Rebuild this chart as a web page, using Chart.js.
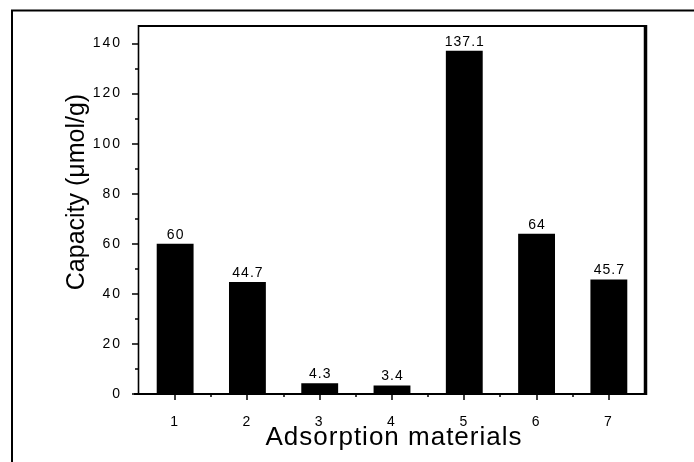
<!DOCTYPE html>
<html>
<head>
<meta charset="utf-8">
<script src="https://cdn.jsdelivr.net/npm/chart.js@4.4.1/dist/chart.umd.min.js"></script>
<style>
  html, body { margin: 0; padding: 0; background: #fff; }
</style>
</head>
<body>
<canvas id="chart" width="694" height="462"></canvas>
<script>
// data
const categories = ['1', '2', '3', '4', '5', '6', '7'];
const capacityValues = [60, 44.7, 4.3, 3.4, 137.1, 64, 45.7];
const valueLabels = ['60', '44.7', '4.3', '3.4', '137.1', '64', '45.7'];
const yMajorTicks = [0, 20, 40, 60, 80, 100, 120, 140];
const yMinorTicks = [10, 30, 50, 70, 90, 110, 130];
const yMax = 147;
const yTitle = 'Capacity (μmol/g)';
const xTitle = 'Adsorption materials';

const FONT = '"Liberation Sans", Arial, Helvetica, sans-serif';

// frame, ticks, titles and value labels
const framePlugin = {
    id: 'frame',
    beforeDraw(chart) {
        chart.ctx.letterSpacing = '2px';
    },
    afterDatasetsDraw(chart) {
        const ctx = chart.ctx;
        const meta = chart.getDatasetMeta(0);
        ctx.save();
        ctx.letterSpacing = '1px';
        ctx.fillStyle = '#000';
        ctx.font = '14px ' + FONT;
        ctx.textAlign = 'center';
        ctx.textBaseline = 'bottom';
        meta.data.forEach((bar, i) => {
            ctx.fillText(valueLabels[i], bar.x + 0.5, bar.y - 2);
        });
        ctx.restore();
    },
    afterDraw(chart) {
        const ctx = chart.ctx;
        const area = chart.chartArea;
        const xs = chart.scales.x;
        const ys = chart.scales.y;
        ctx.save();
        ctx.letterSpacing = '0px';
        ctx.strokeStyle = '#000';

        // outer border of the figure
        ctx.lineWidth = 2;
        ctx.beginPath();
        ctx.moveTo(12, 462);
        ctx.lineTo(12, 10.5);
        ctx.lineTo(694, 10.5);
        ctx.stroke();

        // plot box
        ctx.lineWidth = 2;
        ctx.beginPath();
        ctx.moveTo(area.left, area.top);
        ctx.lineTo(area.right, area.top);
        ctx.moveTo(area.left - 5, area.bottom);
        ctx.lineTo(area.right, area.bottom);
        ctx.stroke();
        ctx.lineWidth = 1.6;
        ctx.beginPath();
        ctx.moveTo(area.left - 0.5, area.top - 1);
        ctx.lineTo(area.left - 0.5, area.bottom + 1);
        ctx.stroke();
        ctx.lineWidth = 3.5;
        ctx.beginPath();
        ctx.moveTo(area.right + 0.5, area.top - 1);
        ctx.lineTo(area.right + 0.5, area.bottom + 1);
        ctx.stroke();

        // y ticks
        ctx.lineWidth = 1.5;
        ctx.beginPath();
        yMajorTicks.forEach(v => {
            const py = Math.round(ys.getPixelForValue(v));
            ctx.moveTo(area.left - 7, py);
            ctx.lineTo(area.left, py);
        });
        yMinorTicks.forEach(v => {
            const py = Math.round(ys.getPixelForValue(v));
            ctx.moveTo(area.left - 4, py);
            ctx.lineTo(area.left, py);
        });
        // x ticks
        categories.forEach((c, i) => {
            const px = Math.round(xs.getPixelForValue(i));
            ctx.moveTo(px, area.bottom);
            ctx.lineTo(px, area.bottom + 6);
            if (i < categories.length - 1) {
                const mx = Math.round(xs.getPixelForValue(i + 0.5));
                ctx.moveTo(mx, area.bottom);
                ctx.lineTo(mx, area.bottom + 3);
            }
        });
        ctx.stroke();

        // axis titles
        ctx.fillStyle = '#000';
        ctx.font = '26px ' + FONT;
        ctx.textAlign = 'center';
        ctx.textBaseline = 'alphabetic';
        ctx.letterSpacing = '1px';
        ctx.fillText(xTitle, 394, 445);

        ctx.letterSpacing = '0px';
        ctx.font = '25px ' + FONT;
        ctx.translate(84, 192);
        ctx.rotate(-Math.PI / 2);
        ctx.fillText(yTitle, 0, 0);
        ctx.restore();
    }
};

new Chart(document.getElementById('chart'), {
    type: 'bar',
    data: {
        labels: categories,
        datasets: [{
            data: capacityValues,
            backgroundColor: '#000',
            borderWidth: 0,
            barPercentage: 0.51,
            categoryPercentage: 1
        }]
    },
    options: {
        responsive: false,
        animation: false,
        layout: { padding: { top: 26, right: 49, left: 0, bottom: 0 } },
        plugins: {
            legend: { display: false },
            tooltip: { enabled: false }
        },
        scales: {
            x: {
                grid: { display: false },
                border: { display: false },
                ticks: {
                    color: '#000',
                    font: { family: FONT, size: 14 },
                    padding: 12,
                    maxRotation: 0
                },
                afterFit(scale) { scale.height = 68; }
            },
            y: {
                min: 0,
                max: yMax,
                grid: { display: false },
                border: { display: false },
                ticks: {
                    color: '#000',
                    font: { family: FONT, size: 14 },
                    padding: 9
                },
                afterBuildTicks(scale) {
                    scale.ticks = yMajorTicks.map(v => ({ value: v }));
                },
                afterFit(scale) { scale.width = 139; }
            }
        }
    },
    plugins: [framePlugin]
});
</script>
</body>
</html>
